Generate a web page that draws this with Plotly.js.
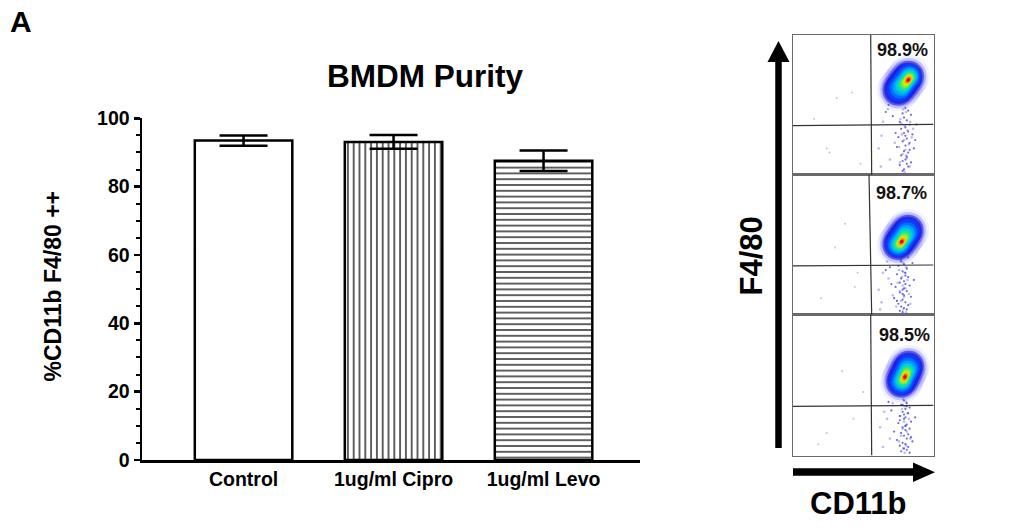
<!DOCTYPE html>
<html>
<head>
<meta charset="utf-8">
<script src="https://cdn.plot.ly/plotly-3.0.1.min.js"></script>
<style>html,body{margin:0;padding:0;background:#fff;}#chart{width:1017px;height:529px;}</style>
</head>
<body>
<div id="chart"></div>
<script>
// ---------- data: bar chart ----------
const categories = ['Control', '1ug/ml Cipro', '1ug/ml Levo'];
const meanPurity = [93.5, 93.1, 87.6];
const errPurity = [1.5, 2.0, 3.0];
const yTickVals = [0, 20, 40, 60, 80, 100];

// ---------- data: flow panels (axis units 0-100) ----------
const pctLabels = ['98.9%', '98.7%', '98.5%'];
const pctX = [78, 77.4, 79.7];
const pctY = [89, 86.8, 85.4];
const gateVTop = [55.3, 54.1, 55.3];
const gateVBottom = [56, 56, 56];
const gateHLeft = [35.2, 34.9, 34.9];
const gateHRight = [36.2, 35.6, 35.6];
const clusterX = [78.5, 78.3, 79.7];
const clusterY = [65.5, 55.2, 57.7];
const peakX = [82, 77.4, 79.7];
const peakY = [67.9, 52.2, 55.7];
const clusterTilt = [37, 35, 25];
const tail1X = [80,82,78,84,79,81,76,83,80,77,82,79,85,75,81,78,83,80,74,86,79,82,77,81,80,78,84,76,82,79,71,88,68,66,73,87,80,83,78,81];
const tail1Y = [48,46,44,43,41,39,38,36,34,33,31,30,29,27,26,24,23,21,20,19,17,16,14,13,11,10,9,7,6,4,42,36,50,45,30,25,28,18,3,8];
const tail1bX = [78.5,80.5,76.5,83.5,79.5,81.5,77.5,84.5,79,82.5,75.5,80,78,81,76,83,79.5,77,85.5,72.5,80.5,63,61,69,64,67.5,70.5,62.5];
const tail1bY = [47,45,40,38,35,32,29,27,25,22,20,18,15,12,9,6,2,37,33,23,14,28,19,11,38,47,53,6];
const tail2X = [77,79,75,81,78,80,74,82,77,79,76,80,83,73,78,81,76,79,84,72,78,80,75,82,77,79,81,76,78,80,69,86,66,70,85,74,79,77,82,78];
const tail2Y = [38,36,35,33,31,30,29,27,26,24,23,22,21,20,18,17,16,14,13,12,11,9,8,7,6,5,4,3,15,28,34,25,32,22,37,10,19,40,41,2];
const tail2bX = [76.5,78.5,80.5,75.5,79.5,77.5,81.5,74.5,78,80,76,82.5,79,77,83.5,73.5,78.5,80.5,64,61,68,63,67,71,62];
const tail2bY = [39,37,34,32,30,27,25,23,21,19,17,15,13,10,8,6,4,2,30,18,26,9,38,14,4];
const tail3X = [79,81,77,83,80,78,82,76,80,79,84,75,81,78,83,80,77,82,79,81,74,85,78,80,76,82,79,81,77,80,70,87,72,68,84,79,81,76,83,78];
const tail3Y = [39,37,36,34,33,31,30,28,27,26,24,23,22,20,19,18,16,15,14,12,11,10,9,8,7,6,5,4,3,21,32,27,17,38,13,29,35,25,2,36];
const tail3bX = [78.5,80.5,79.5,77.5,81.5,76.5,82.5,79,80,78,81,77,83.5,75.5,80.5,78.5,79.5,65,62,69,64,71,67];
const tail3bY = [40,38,35,33,30,28,26,24,21,19,17,14,12,10,7,5,2,31,20,12,6,37,26];
const out1X = [42,31,24,26,48,15], out1Y = [59,55,19,16,8,40];
const out2X = [37,44,20,30,46], out2Y = [65,20,12,48,30];
const out3X = [43,24,35,50,18], out3Y = [26,16,60,45,8];

// ---------- layout helpers ----------
const W = 1017, H = 529;
const PX = x => x / W;
const PY = y => 1 - y / H;
const FONT = 'Liberation Sans, Arial, sans-serif';
const PANEL_PX = 140.5; // panel size in px -> 100 units

const panelDomY = [[PY(175), PY(35)], [PY(315), PY(174.5)], [PY(455.5), PY(314.5)]];
const panelDomX = [PX(793), PX(933.5)];

// density glyph levels: [length px, width px, color, shift toward peak]
const levels = [
  [60, 42, 'rgba(80,80,240,0.12)', 0],
  [54, 35, 'rgba(50,50,225,0.28)', 0],
  [49, 30, 'rgba(30,30,225,0.75)', 0],
  [45, 27, '#2020e8', 0],
  [41, 24, '#0a46ff', 0.15],
  [36, 20, '#0080ff', 0.3],
  [31, 16.5, '#00b4f5', 0.45],
  [26, 13.5, '#00dcd0', 0.6],
  [21, 10.5, '#2ee878', 0.7],
  [16.5, 8, '#8ef030', 0.8],
  [12.5, 6.2, '#e6e600', 0.9],
  [9, 4.8, '#ffa000', 1],
  [6, 3.5, '#ff4a00', 1],
  [3, 2.5, '#e00000', 1]
];

const traces = [];
traces.push({
  type: 'bar', x: categories, y: meanPurity, width: 0.65,
  marker: {
    color: '#ffffff',
    line: {color: '#000', width: 2.5},
    pattern: {shape: ['', '|', '-'], size: 5.8, solidity: 0.24, fgcolor: '#1e1e1e', bgcolor: '#ffffff', fillmode: 'replace'}
  },
  error_y: {type: 'data', array: errPurity, visible: true, color: '#000', thickness: 2.5, width: 24},
  xaxis: 'x', yaxis: 'y', hoverinfo: 'skip', showlegend: false
});

const tails = [[tail1X, tail1Y], [tail2X, tail2Y], [tail3X, tail3Y]];
const tailsB = [[tail1bX, tail1bY], [tail2bX, tail2bY], [tail3bX, tail3bY]];
const outs = [[out1X, out1Y], [out2X, out2Y], [out3X, out3Y]];

for (let p = 0; p < 3; p++) {
  const ax = 'x' + (p + 2), ay = 'y' + (p + 2);
  // sparse events
  traces.push({type: 'scatter', mode: 'markers', x: tailsB[p][0], y: tailsB[p][1], xaxis: ax, yaxis: ay,
    marker: {size: 2.6, color: 'rgba(120,120,235,0.5)'}, hoverinfo: 'skip', showlegend: false});
  traces.push({type: 'scatter', mode: 'markers', x: tails[p][0], y: tails[p][1], xaxis: ax, yaxis: ay,
    marker: {size: 2.2, color: 'rgba(45,45,215,0.7)'}, hoverinfo: 'skip', showlegend: false});
  traces.push({type: 'scatter', mode: 'markers', x: outs[p][0], y: outs[p][1], xaxis: ax, yaxis: ay,
    marker: {size: 2, color: 'rgba(120,120,230,0.45)'}, hoverinfo: 'skip', showlegend: false});
  // dense cluster glyph
  const gx = [], gy = [], gs = [], gc = [];
  const th = clusterTilt[p] * Math.PI / 180;
  levels.forEach(([len, wid, col, f]) => {
    const cx = clusterX[p] + (peakX[p] - clusterX[p]) * f;
    const cy = clusterY[p] + (peakY[p] - clusterY[p]) * f;
    const a = (len - wid) / 2;
    for (let k = -3; k <= 3; k++) {
      const t = a * k / 3;
      gx.push(cx + t * Math.sin(th) * 100 / PANEL_PX);
      gy.push(cy + t * Math.cos(th) * 100 / PANEL_PX);
      gs.push(wid); gc.push(col);
    }
  });
  traces.push({type: 'scatter', mode: 'markers', x: gx, y: gy, xaxis: ax, yaxis: ay,
    marker: {size: gs, color: gc, line: {width: 0}}, hoverinfo: 'skip', showlegend: false});
}

const layout = {
  width: W, height: H,
  margin: {l: 0, r: 0, t: 0, b: 0},
  paper_bgcolor: '#fff', plot_bgcolor: 'rgba(0,0,0,0)',
  showlegend: false,
  font: {family: FONT, color: '#000'},
  title: {text: 'BMDM Purity', x: PX(425), y: PY(76), xanchor: 'center', yanchor: 'middle',
    font: {family: FONT, size: 31.5, weight: 'bold', color: '#000'}},
  xaxis: {
    domain: [PX(142), PX(640)], range: [-0.677, 2.643], type: 'category',
    showline: true, linecolor: '#000', linewidth: 2.5, ticks: '', showgrid: false, zeroline: false,
    tickfont: {family: FONT, size: 19.5, weight: 'bold', color: '#000'}, fixedrange: true
  },
  yaxis: {
    domain: [PY(460), PY(118.3)], range: [0, 100], tickvals: yTickVals,
    showline: true, linecolor: '#000', linewidth: 2.5, ticks: 'outside', ticklen: 6, tickwidth: 2.5, tickcolor: '#000',
    minor: {dtick: 5, ticks: 'outside', ticklen: 4, tickwidth: 2, tickcolor: '#000', showgrid: false},
    showgrid: false, zeroline: false,
    tickfont: {family: FONT, size: 19.5, weight: 'bold', color: '#000'}, fixedrange: true
  },
  annotations: [
    {text: 'A', x: PX(20.5), y: PY(21), xref: 'paper', yref: 'paper', showarrow: false, xanchor: 'center', yanchor: 'middle',
      font: {family: FONT, size: 30, weight: 'bold', color: '#000'}},
    {text: '%CD11b F4/80 ++', x: PX(52.5), y: PY(286), xref: 'paper', yref: 'paper', showarrow: false, textangle: -90,
      xanchor: 'center', yanchor: 'middle', font: {family: FONT, size: 23, weight: 'bold', color: '#000'}},
    {text: 'F4/80', x: PX(751), y: PY(256.5), xref: 'paper', yref: 'paper', showarrow: false, textangle: -90,
      xanchor: 'center', yanchor: 'middle', font: {family: FONT, size: 31, weight: 'bold', color: '#000'}},
    {text: 'CD11b', x: PX(858), y: PY(503), xref: 'paper', yref: 'paper', showarrow: false,
      xanchor: 'center', yanchor: 'middle', font: {family: FONT, size: 31, weight: 'bold', color: '#000'}}
  ],
  shapes: [
    // axis arrows (decoration)
    {type: 'line', xref: 'paper', yref: 'paper', x0: PX(778.5), x1: PX(778.5), y0: PY(448), y1: PY(60), line: {color: '#000', width: 6.5}},
    {type: 'path', xref: 'paper', yref: 'paper', fillcolor: '#000', line: {width: 0},
      path: `M${PX(767.5)},${PY(62)} L${PX(789.5)},${PY(62)} L${PX(778.5)},${PY(41)} Z`},
    {type: 'line', xref: 'paper', yref: 'paper', x0: PX(793), x1: PX(915), y0: PY(472), y1: PY(472), line: {color: '#000', width: 7.5}},
    {type: 'path', xref: 'paper', yref: 'paper', fillcolor: '#000', line: {width: 0},
      path: `M${PX(913)},${PY(462.5)} L${PX(913)},${PY(482)} L${PX(935)},${PY(472.2)} Z`}
  ]
};

for (let p = 0; p < 3; p++) {
  const n = p + 2;
  layout['xaxis' + n] = {domain: panelDomX, anchor: 'y' + n, range: [0, 100], showticklabels: false, ticks: '',
    showgrid: false, zeroline: false, showline: true, mirror: true, linecolor: '#6a6a6a', linewidth: 1.3, fixedrange: true};
  layout['yaxis' + n] = {domain: panelDomY[p], anchor: 'x' + n, range: [0, 100], showticklabels: false, ticks: '',
    showgrid: false, zeroline: false, showline: true, mirror: true, linecolor: '#6a6a6a', linewidth: 1.3, fixedrange: true};
  layout.shapes.push({type: 'line', xref: 'x' + n, yref: 'y' + n, x0: gateVBottom[p], x1: gateVTop[p], y0: 0, y1: 100,
    line: {color: '#333', width: 1.2}});
  layout.shapes.push({type: 'line', xref: 'x' + n, yref: 'y' + n, x0: 0, x1: 100, y0: gateHLeft[p], y1: gateHRight[p],
    line: {color: '#333', width: 1.2}});
  layout.annotations.push({text: pctLabels[p], x: pctX[p], y: pctY[p], xref: 'x' + n, yref: 'y' + n, showarrow: false,
    xanchor: 'center', yanchor: 'middle', font: {family: FONT, size: 18, weight: 'bold', color: '#111'}});
}

Plotly.newPlot('chart', traces, layout, {displayModeBar: false, staticPlot: true});
</script>
</body>
</html>
